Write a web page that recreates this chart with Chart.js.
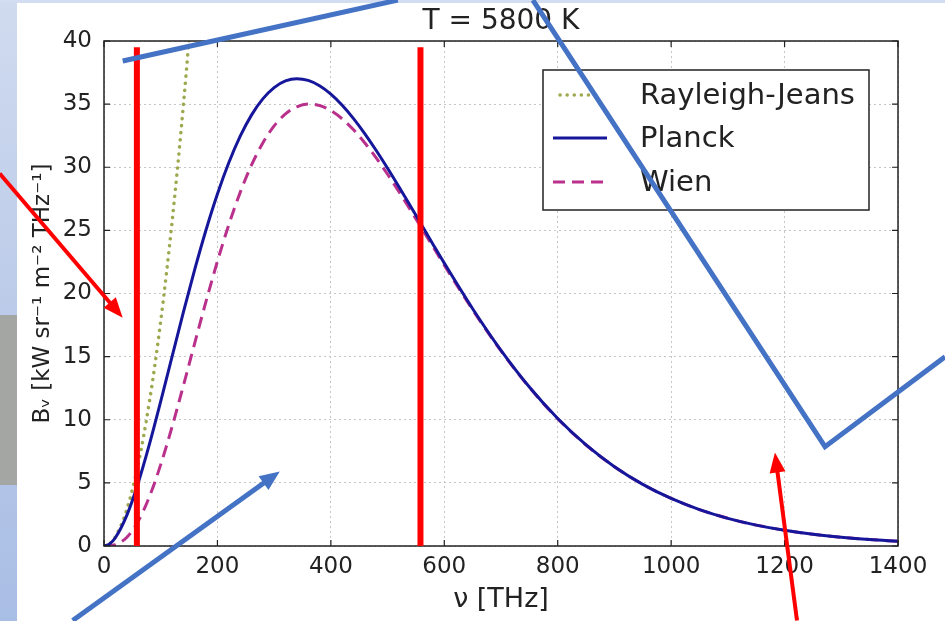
<!DOCTYPE html>
<html><head><meta charset="utf-8">
<script src="https://cdn.jsdelivr.net/npm/chart.js@4.4.0/dist/chart.umd.min.js"></script>
<style>html,body{margin:0;padding:0;background:#fff;overflow:hidden;}#wrap{width:945px;height:621px;position:relative;}</style>
</head><body><div id="wrap"><canvas id="c" width="945" height="621"></canvas></div>
<script>
// ---- data ----
const nu = [0,10,20,40,60,80,100,120,140,160,180,200,220,240,260,280,300,320,340,360,380,400,420,440,460,480,500,520,540,560,580,600,650,700,750,800,850,900,950,1000,1050,1100,1150,1200,1250,1300,1350,1400];
const planck = [0,0.171,0.656,2.406,4.955,8.045,11.456,15.000,18.523,21.904,25.047,27.880,30.355,32.446,34.130,35.414,36.310,36.835,37.013,36.878,36.458,35.794,34.913,33.856,32.650,31.330,29.923,28.455,26.949,25.428,23.909,22.408,18.796,15.498,12.592,10.098,8.006,6.282,4.885,3.767,2.883,2.192,1.656,1.244,0.930,0.692,0.512,0.378];
const wien = [0,0.014,0.100,0.678,1.939,3.895,6.447,9.441,12.706,16.074,19.397,22.550,25.437,27.990,30.159,31.923,33.276,34.225,34.791,35.002,34.886,34.486,33.833,32.967,31.924,30.740,29.445,28.070,26.640,25.180,23.710,22.244,18.709,15.451,12.567,10.085,7.999,6.278,4.883,3.766,2.882,2.192,1.656,1.244,0.930,0.692,0.512,0.378];
const rjNu = [0,10,20,40,60,80,100,120,140,160];
const rayleighJeans = [0,0.178,0.713,2.852,6.417,11.407,17.824,25.667,34.935,45.630];
const seriesLabels = ['Rayleigh-Jeans','Planck','Wien'];
const xTicks = [0,200,400,600,800,1000,1200,1400];
const yTicks = [0,5,10,15,20,25,30,35,40];
const titleText = 'T = 5800 K';
const xTitle = 'ν [THz]';
const yTitle = 'Bᵥ [kW sr⁻¹ m⁻² THz⁻¹]';
// annotation marks in data units (nu, B)
const markerLinesNu = [58, 558];
const markerLineTop = 39.5;
const bluePolylines = [[[33.0,38.42],[518.0,43.24]], [[756.2,43.24],[1271.3,7.87],[1482.9,14.99]]];
const blueArrows = [[[-55.2,-5.9],[309.9,5.9]]];
const redArrows = [[[-184.0,29.5],[33.0,18.08]], [[1221.9,-5.9],[1183.0,7.4]]];

const toXY = (xs, ys) => xs.map((x, i) => ({x: x, y: ys[i]}));
const FONT = 'DejaVu Sans';
const INK = '#222222';

const bgPlugin = {
  id: 'bg',
  beforeDraw(chart) {
    const c = chart.ctx; const W = chart.width, H = chart.height;
    c.save();
    c.fillStyle = '#ffffff'; c.fillRect(0, 0, W, H);
    const g = c.createLinearGradient(0, 0, 0, H);
    g.addColorStop(0, '#d0dbef'); g.addColorStop(0.5, '#bccbe9'); g.addColorStop(1, '#a9bee5');
    c.fillStyle = g; c.fillRect(0, 0, 17, H);
    c.fillStyle = '#d3ddf1'; c.fillRect(0, 0, W, 3);
    c.fillStyle = '#a3a6a3'; c.fillRect(0, 315, 17, 170);
    c.restore();
  }
};

function arrow(c, p0, p1, color, width, headLen, headW) {
  const dx = p1[0]-p0[0], dy = p1[1]-p0[1];
  const L = Math.hypot(dx, dy); const ux = dx/L, uy = dy/L;
  const bx = p1[0]-ux*headLen, by = p1[1]-uy*headLen;
  c.strokeStyle = color; c.lineWidth = width; c.lineCap = 'butt';
  c.beginPath(); c.moveTo(p0[0], p0[1]); c.lineTo(bx+ux*2, by+uy*2); c.stroke();
  c.fillStyle = color; c.beginPath();
  c.moveTo(p1[0], p1[1]);
  c.lineTo(bx - uy*headW/2, by + ux*headW/2);
  c.lineTo(bx + uy*headW/2, by - ux*headW/2);
  c.closePath(); c.fill();
}

const overlayPlugin = {
  id: 'overlay',
  afterDraw(chart) {
    const c = chart.ctx; const a = chart.chartArea;
    const xs = chart.scales.x, ys = chart.scales.y;
    const P = (pt) => [xs.getPixelForValue(pt[0]), ys.getPixelForValue(pt[1])];
    c.save();
    // frame
    c.strokeStyle = INK; c.lineWidth = 1.5; c.setLineDash([]);
    c.strokeRect(a.left, a.top, a.right - a.left, a.bottom - a.top);
    // inward ticks
    c.lineWidth = 1.2; c.beginPath();
    xTicks.forEach(v => { const x = xs.getPixelForValue(v);
      c.moveTo(x, a.bottom); c.lineTo(x, a.bottom - 6); c.moveTo(x, a.top); c.lineTo(x, a.top + 6); });
    yTicks.forEach(v => { const y = ys.getPixelForValue(v);
      c.moveTo(a.left, y); c.lineTo(a.left + 6, y); c.moveTo(a.right, y); c.lineTo(a.right - 6, y); });
    c.stroke();
    // legend
    const L = {left: 543, top: 70, right: 869, bottom: 210};
    c.fillStyle = '#ffffff'; c.fillRect(L.left, L.top, L.right - L.left, L.bottom - L.top);
    c.strokeStyle = INK; c.lineWidth = 1.5; c.strokeRect(L.left, L.top, L.right - L.left, L.bottom - L.top);
    const rows = [95, 138, 182];
    chart.data.datasets.forEach((ds, i) => {
      const y = rows[i];
      c.strokeStyle = ds.borderColor; c.lineWidth = ds.borderWidth;
      c.setLineDash(ds.borderDash || []); c.lineCap = ds.borderCapStyle || 'butt';
      c.beginPath();
      if (i === 0) { c.moveTo(560, y); c.lineTo(602, y); } else { c.moveTo(553, y); c.lineTo(607, y); }
      c.stroke();
      c.setLineDash([]); c.lineCap = 'butt';
      c.fillStyle = INK; c.font = '29px "' + FONT + '"'; c.textBaseline = 'middle'; c.textAlign = 'left';
      c.fillText(ds.label, 640, y + 1);
    });
    // red vertical marker lines
    c.strokeStyle = '#ff0000'; c.lineWidth = 6; c.lineCap = 'butt';
    markerLinesNu.forEach(v => {
      const x = xs.getPixelForValue(v);
      c.beginPath(); c.moveTo(x, ys.getPixelForValue(markerLineTop)); c.lineTo(x, ys.getPixelForValue(0)); c.stroke();
    });
    // blue annotation lines
    c.strokeStyle = '#4472c4'; c.lineWidth = 5; c.lineJoin = 'miter';
    bluePolylines.forEach(pl => {
      c.beginPath(); pl.forEach((pt, k) => { const p = P(pt); k ? c.lineTo(p[0], p[1]) : c.moveTo(p[0], p[1]); }); c.stroke();
    });
    blueArrows.forEach(ar => arrow(c, P(ar[0]), P(ar[1]), '#4472c4', 5, 20, 17));
    redArrows.forEach(ar => arrow(c, P(ar[0]), P(ar[1]), '#ff0000', 4, 20, 16));
    c.restore();
  }
};

new Chart(document.getElementById('c').getContext('2d'), {
  type: 'line',
  data: {
    datasets: [
      {label: seriesLabels[0], data: toXY(rjNu, rayleighJeans), borderColor: '#9ea84e', borderWidth: 3.5,
       borderDash: [0.1, 7], borderCapStyle: 'round', pointRadius: 0, cubicInterpolationMode: 'monotone', order: 3},
      {label: seriesLabels[1], data: toXY(nu, planck), borderColor: '#16169a', borderWidth: 3,
       pointRadius: 0, cubicInterpolationMode: 'monotone', order: 1},
      {label: seriesLabels[2], data: toXY(nu, wien), borderColor: '#b9318c', borderWidth: 3,
       borderDash: [12, 7], pointRadius: 0, cubicInterpolationMode: 'monotone', order: 2}
    ]
  },
  options: {
    responsive: false, animation: false, devicePixelRatio: 1,
    layout: {padding: {left: 0, right: 47, top: 0, bottom: 0}},
    plugins: {
      legend: {display: false}, tooltip: {enabled: false},
      title: {display: true, fullSize: false, text: titleText, color: INK,
        font: {family: FONT, size: 28, weight: 'normal', lineHeight: 1.2}, padding: {top: 5, bottom: 2.4}}
    },
    scales: {
      x: {type: 'linear', min: 0, max: 1400,
        afterBuildTicks: s => { s.ticks = xTicks.map(v => ({value: v})); },
        afterFit: s => { s.height = 75; },
        ticks: {color: INK, font: {family: FONT, size: 23}, padding: 7, maxRotation: 0, callback: v => String(v)},
        grid: {color: '#c6c6c6', lineWidth: 1, drawTicks: false},
        border: {display: false, dash: [2, 3]},
        title: {display: true, text: xTitle, color: INK, font: {family: FONT, size: 27}, padding: {top: 2, bottom: 5}}
      },
      y: {type: 'linear', min: 0, max: 40,
        afterBuildTicks: s => { s.ticks = yTicks.map(v => ({value: v})); },
        afterFit: s => { s.width = 104; },
        ticks: {color: INK, font: {family: FONT, size: 23}, padding: 12, callback: v => String(v)},
        grid: {color: '#c6c6c6', lineWidth: 1, drawTicks: false},
        border: {display: false, dash: [2, 3]},
        title: {display: true, text: yTitle, color: INK, font: {family: FONT, size: 23}, padding: {top: 29, bottom: 2}}
      }
    }
  },
  plugins: [bgPlugin, overlayPlugin]
});
</script></body></html>
